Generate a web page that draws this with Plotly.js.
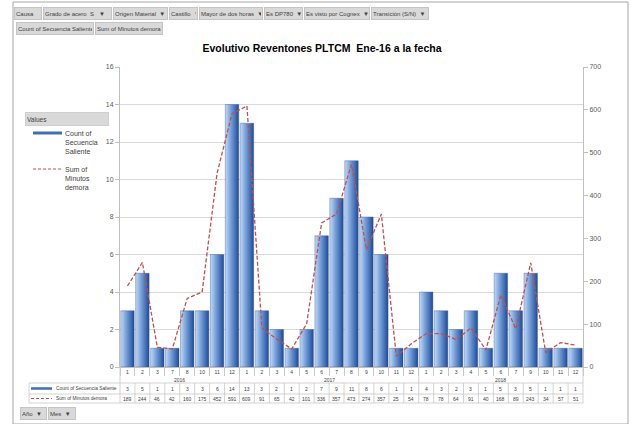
<!DOCTYPE html>
<html>
<head>
<meta charset="utf-8">
<script src="https://cdn.plot.ly/plotly-3.0.1.min.js"></script>
<style>html,body{margin:0;padding:0;background:#fff;}#chart{width:631px;height:424px;}</style>
</head>
<body>
<div id="chart"></div>
<script>
// ---- data ----
const years = ['2016','2016','2016','2016','2016','2016','2016','2016',
  '2017','2017','2017','2017','2017','2017','2017','2017','2017','2017','2017','2017',
  '2018','2018','2018','2018','2018','2018','2018','2018','2018','2018','2018'];
const months = ['1','2','3','7','8','10','11','12',
  '1','2','3','4','5','6','7','8','9','10','11','12',
  '1','2','3','4','5','6','7','9','10','11','12'];
const countSecuencia = [3,5,1,1,3,3,6,14, 13,3,2,1,2,7,9,11,8,6,1,1, 4,3,2,3,1,5,3,5,1,1,1];
const minutosDemora = [189,244,46,42,160,175,452,591, 609,91,65,42,101,336,357,473,274,357,25,54, 78,78,64,91,40,168,89,243,34,57,51];
const seriesNames = ['Count of Secuencia Saliente','Sum of Minutos demora'];
const filterButtons = ['Causa','Grado de acero&nbsp;&nbsp;S&nbsp;&nbsp;&nbsp;▼','Origen Material&nbsp;&nbsp;▼','Castillo&nbsp;&nbsp;▼',
  'Mayor de dos horas&nbsp;&nbsp;▼','Es DP780&nbsp;&nbsp;▼','Es visto por Cognex&nbsp;&nbsp;▼','Transición (S/N)&nbsp;&nbsp;▼'];
const filterX = [[14,42],[43,112],[113,168],[169,198],[199,263],[264,303],[304,370],[371,429]];
const valueButtons = ['Count of Secuencia Saliente','Sum of Minutos demora'];
const valueX = [[16,94],[95,163]];
const axisButtons = ['Año&nbsp;&nbsp;▼','Mes&nbsp;&nbsp;▼'];
const axisX = [[20,47],[48,76]];

// ---- layout helpers (pixel -> paper) ----
const L=120, R=583, T=67, B=367;
const px = X => (X-L)/(R-L);
const py = Y => (B-Y)/(B-T);
const N = months.length;
const FONT = 'Liberation Sans Narrow, Liberation Sans, Arial, sans-serif';
const FONT2 = 'Liberation Sans, Arial, sans-serif';
const cats = months.map((m,i)=>years[i]+'-'+m);

const annotations = [];
const shapes = [];

function button(text, x0, x1, yc){
  annotations.push({xref:'paper',yref:'paper',x:px(x0),y:py(yc),xanchor:'left',yanchor:'middle',
    text:text,showarrow:false,align:'left',width:(x1-x0)-4,height:9,
    bgcolor:'#d9d9d9',bordercolor:'#c4c4c4',borderwidth:1,borderpad:1,
    font:{family:FONT,size:6,color:'#404040'}});
}
filterButtons.forEach((t,i)=>button(t,filterX[i][0],filterX[i][1],13));
valueButtons.forEach((t,i)=>button(t,valueX[i][0],valueX[i][1],28));
axisButtons.forEach((t,i)=>button(t,axisX[i][0],axisX[i][1],413));

// outer frame
shapes.push({type:'rect',xref:'paper',yref:'paper',x0:px(13),x1:px(628),y0:py(2),y1:py(424),
  line:{color:'#a6a6a6',width:1}});

// legend (manual)
annotations.push({xref:'paper',yref:'paper',x:px(25),y:py(119),xanchor:'left',yanchor:'middle',
  text:'Values',showarrow:false,align:'left',width:80,height:10,bgcolor:'#d9d9d9',bordercolor:'#cfcfcf',
  borderwidth:1,borderpad:1,font:{family:FONT,size:6.5,color:'#404040'}});
shapes.push({type:'line',xref:'paper',yref:'paper',x0:px(33),x1:px(62),y0:py(133),y1:py(133),
  line:{color:'#3f6fb5',width:3}});
shapes.push({type:'line',xref:'paper',yref:'paper',x0:px(33),x1:px(62),y0:py(169),y1:py(169),
  line:{color:'#c0504d',width:1,dash:'3px,2px'}});
annotations.push({xref:'paper',yref:'paper',x:px(63),y:py(128),xanchor:'left',yanchor:'top',
  text:'Count of<br>Secuencia<br>Saliente',showarrow:false,align:'left',font:{family:FONT2,size:7,color:'#404040'}});
annotations.push({xref:'paper',yref:'paper',x:px(63),y:py(164),xanchor:'left',yanchor:'top',
  text:'Sum of<br>Minutos<br>demora',showarrow:false,align:'left',font:{family:FONT2,size:7,color:'#404040'}});

// year row labels + dividers
const yearGroups = [];
years.forEach((y,i)=>{
  const g = yearGroups[yearGroups.length-1];
  if(g && g.year===y){ g.end=i; } else { yearGroups.push({year:y,start:i,end:i}); }
});
yearGroups.forEach(g=>{
  annotations.push({xref:'paper',yref:'paper',x:(g.start+g.end+1)/2/N,y:py(379.5),xanchor:'center',yanchor:'middle',
    text:g.year,showarrow:false,font:{family:FONT2,size:5,color:'#404040'}});
});
for(let k=0;k<=yearGroups.length;k++){
  const xi = k<yearGroups.length ? yearGroups[k].start/N : 1;
  shapes.push({type:'line',xref:'paper',yref:'paper',x0:xi,x1:xi,y0:py(B),y1:py(383),line:{color:'#c8c8c8',width:0.8}});
}

// data table below the axis
const rowTop=383, rowMid=394, rowBot=403;
[rowTop,rowMid,rowBot].forEach(Y=>shapes.push({type:'line',xref:'paper',yref:'paper',x0:px(29),x1:1,y0:py(Y),y1:py(Y),
  line:{color:'#c8c8c8',width:0.8}}));
shapes.push({type:'line',xref:'paper',yref:'paper',x0:px(29),x1:px(29),y0:py(rowTop),y1:py(rowBot),line:{color:'#c8c8c8',width:0.8}});
for(let i=0;i<=N;i++){
  shapes.push({type:'line',xref:'paper',yref:'paper',x0:i/N,x1:i/N,y0:py(rowTop),y1:py(rowBot),line:{color:'#c8c8c8',width:0.8}});
}
shapes.push({type:'line',xref:'paper',yref:'paper',x0:px(31),x1:px(52),y0:py(388.5),y1:py(388.5),line:{color:'#3f6fb5',width:2.5}});
shapes.push({type:'line',xref:'paper',yref:'paper',x0:px(31),x1:px(52),y0:py(398.5),y1:py(398.5),line:{color:'#c0504d',width:1,dash:'3px,2px'}});
annotations.push({xref:'paper',yref:'paper',x:px(54),y:py(388.5),xanchor:'left',yanchor:'middle',text:seriesNames[0],
  showarrow:false,font:{family:FONT,size:4.8,color:'#404040'}});
annotations.push({xref:'paper',yref:'paper',x:px(54),y:py(398.5),xanchor:'left',yanchor:'middle',text:seriesNames[1],
  showarrow:false,font:{family:FONT,size:4.8,color:'#404040'}});
for(let i=0;i<N;i++){
  annotations.push({xref:'paper',yref:'paper',x:(i+0.5)/N,y:py(388.5),xanchor:'center',yanchor:'middle',
    text:String(countSecuencia[i]),showarrow:false,font:{family:FONT2,size:5,color:'#404040'}});
  annotations.push({xref:'paper',yref:'paper',x:(i+0.5)/N,y:py(398.5),xanchor:'center',yanchor:'middle',
    text:String(minutosDemora[i]),showarrow:false,font:{family:FONT2,size:5,color:'#404040'}});
}

const traces = [
  {type:'bar',name:seriesNames[0],x:cats,y:countSecuencia,
   marker:{color:'#4f81bd',line:{color:'#2f5597',width:0.4}},hoverinfo:'skip'},
  {type:'scatter',mode:'lines',name:seriesNames[1],x:cats,y:minutosDemora,yaxis:'y2',
   line:{color:'#c0504d',width:1.3,dash:'4px,2px'},hoverinfo:'skip'}
];

const layout = {
  width:631,height:424,
  margin:{l:L,r:631-R,t:T,b:424-B},
  paper_bgcolor:'#ffffff',plot_bgcolor:'#ffffff',
  showlegend:false,bargap:0.1,
  title:{text:'<b>Evolutivo Reventones PLTCM  Ene-16 a la fecha</b>',x:322/631,xanchor:'center',
    y:(424-48)/424,yanchor:'middle',font:{family:FONT2,size:10.5,color:'#000'}},
  xaxis:{type:'category',categoryorder:'array',categoryarray:cats,range:[-0.5,N-0.5],
    tickvals:cats,ticktext:months,tickangle:0,showline:true,linecolor:'#bfbfbf',linewidth:1,
    ticks:'outside',tickson:'boundaries',ticklen:8,tickcolor:'#c8c8c8',
    tickfont:{family:FONT2,size:5,color:'#404040'},showgrid:false,fixedrange:true},
  yaxis:{range:[0,16],dtick:2,showline:true,linecolor:'#bfbfbf',ticks:'outside',ticklen:4,tickcolor:'#bfbfbf',
    gridcolor:'#d9d9d9',gridwidth:1,zeroline:false,tickfont:{family:FONT2,size:7,color:'#595959'}},
  yaxis2:{range:[0,700],dtick:100,overlaying:'y',side:'right',showline:true,linecolor:'#bfbfbf',ticks:'outside',
    ticklen:4,tickcolor:'#bfbfbf',showgrid:false,zeroline:false,tickfont:{family:FONT2,size:7,color:'#595959'}},
  annotations:annotations,shapes:shapes
};

Plotly.newPlot('chart',traces,layout,{staticPlot:true,displayModeBar:false}).then(gd=>{
  const ns='http://www.w3.org/2000/svg';
  const svg=gd.querySelector('.main-svg');
  let defs=svg.querySelector('defs');
  if(!defs){defs=document.createElementNS(ns,'defs');svg.insertBefore(defs,svg.firstChild);}
  const lg=document.createElementNS(ns,'linearGradient');
  lg.setAttribute('id','barGrad');lg.setAttribute('x1','0');lg.setAttribute('x2','1');lg.setAttribute('y1','0');lg.setAttribute('y2','0');
  [['0%','#c6d9f1'],['35%','#80a8de'],['75%','#4270b8'],['100%','#22498f']].forEach(s=>{
    const st=document.createElementNS(ns,'stop');st.setAttribute('offset',s[0]);st.setAttribute('stop-color',s[1]);lg.appendChild(st);
  });
  defs.appendChild(lg);
  gd.querySelectorAll('.barlayer .point path').forEach(p=>{p.style.fill='url(#barGrad)';});
});
</script>
</body>
</html>
